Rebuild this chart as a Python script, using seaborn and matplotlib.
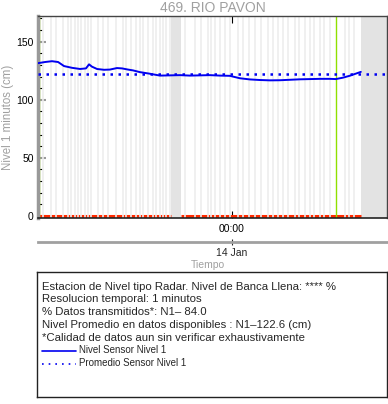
import numpy as np
import pandas as pd
import matplotlib
matplotlib.use("Agg")
import matplotlib.pyplot as plt
import matplotlib.dates as mdates
from matplotlib.ticker import MultipleLocator, FixedLocator
import seaborn as sns

# --- data (hours after window start) ---
START = pd.Timestamp("2024-01-13 10:40")
END = pd.Timestamp("2024-01-14 10:40")

level_hours = [0.0, 0.48, 0.96, 1.38, 1.79, 2.34, 2.89, 3.30, 3.51, 3.71, 4.06, 4.54,
               4.95, 5.43, 5.78, 6.19, 6.53, 7.01, 7.70, 8.39, 9.08, 9.77, 10.45,
               11.14, 11.83, 12.52, 13.20, 13.89, 14.58, 15.27, 15.95, 16.64, 17.33,
               18.02, 18.71, 19.39, 20.08, 20.49, 20.97, 21.46, 21.87, 22.21]
level_cm = [131.5, 132.5, 133.2, 132.5, 129.0, 127.5, 126.5, 127.0, 130.5, 128.5, 126.5,
            125.8, 126.0, 127.3, 127.0, 126.0, 125.3, 123.8, 122.4, 120.8, 121.0, 121.2,
            120.8, 121.0, 121.2, 120.8, 120.6, 118.5, 117.5, 117.0, 116.7, 116.8, 117.2,
            117.6, 117.8, 118.0, 118.0, 117.8, 119.0, 120.7, 122.5, 124.0]
mean_cm = 122.6

gap_hours = [0.34, 0.92, 1.26, 1.72, 2.06, 2.29, 2.52, 2.75, 2.98, 3.21, 3.44, 3.67,
             4.13, 4.47, 4.81, 5.39, 5.84, 6.07, 6.42, 6.76, 6.99, 7.22, 7.56, 7.91,
             8.14, 8.37, 8.60, 8.82, 9.05, 10.08, 10.77, 11.23, 11.69, 11.92, 12.15,
             12.49, 12.84, 13.18, 13.75, 14.10, 14.55, 14.90, 15.36, 15.81, 16.16,
             16.50, 16.85, 17.19, 17.65, 17.99, 18.34, 18.68, 19.02, 19.37, 19.71,
             20.06, 21.09, 21.43, 21.77]
shade_spans = [(9.15, 9.84), (22.21, 24.0)]
green_hours = [0.05, 20.49]

info_lines = ["Estacion de Nivel tipo Radar. Nivel de Banca Llena: **** %",
              "Resolucion temporal: 1 minutos",
              "% Datos transmitidos*: N1\u2013 84.0",
              "Nivel Promedio en datos disponibles : N1\u2013122.6 (cm)",
              "*Calidad de datos aun sin verificar exhaustivamente"]
legend_labels = ["Nivel Sensor Nivel 1", "Promedio Sensor Nivel 1"]


def to_time(hours):
    return START + pd.to_timedelta(np.asarray(hours), unit="h")


sns.set_style("ticks")
plt.rcParams["font.family"] = ["Liberation Sans", "DejaVu Sans"]

fig = plt.figure(figsize=(3.88, 4.04), dpi=100)
ax = fig.add_axes([0.098, 0.46, 0.899, 0.500])

df = pd.DataFrame({"t": to_time(level_hours), "nivel": level_cm})
mean_df = pd.DataFrame({"t": [START, END], "nivel": [mean_cm, mean_cm]})

# background: shaded spans, gaps, green markers
for a, b in shade_spans:
    ax.axvspan(to_time([a])[0], to_time([b])[0], color="#e3e3e3", lw=0, zorder=1)

# red availability line at zero (broken in the big gap)
red_t = to_time([0.0, 9.15, 9.15, 9.84, 9.84, 22.21])
red_v = [0, 0, np.nan, np.nan, 0, 0]
ax.plot(red_t, red_v, color="#ff2a00", lw=2.2, zorder=1.2, solid_capstyle="butt")

for h in gap_hours:
    ax.axvline(to_time([h])[0], color="#ededed", lw=1.2, zorder=1.5)
for h in green_hours:
    ax.axvline(to_time([h])[0], color="#8fe000", lw=1.0, zorder=1.8)

sns.lineplot(data=df, x="t", y="nivel", ax=ax, color="#0000f0", lw=1.4, zorder=6)
sns.lineplot(data=mean_df, x="t", y="nivel", ax=ax, color="#0000f0", lw=1.8,
             linestyle=(0, (1, 2.2)), zorder=5)

ax.set_xlim(START, END)
ax.set_ylim(-2, 172)
ax.set_xlabel("")
ax.set_ylabel("Nivel 1 minutos (cm)", color="#a0a0a0", fontsize=8.3, labelpad=2)
ax.set_title("469. RIO PAVON", color="#a0a0a0", fontsize=10, pad=3)

midnight = mdates.date2num(pd.Timestamp("2024-01-14 00:00"))
ax.xaxis.set_major_locator(FixedLocator([midnight]))
ax.xaxis.set_major_formatter(mdates.DateFormatter("%H:%M"))
ax.yaxis.set_major_locator(MultipleLocator(50))
ax.yaxis.set_minor_locator(MultipleLocator(10))
ax.tick_params(axis="both", which="both", direction="in", top=True, right=True,
               labelsize=7.5, colors="black")
ax.tick_params(axis="y", which="major", length=6, width=1.5, color="#999999", pad=3)
ax.tick_params(axis="y", which="minor", length=3, width=0.8, color="black")
ax.tick_params(axis="x", which="major", length=5, width=0.8, pad=4)

for side in ["top", "right"]:
    ax.spines[side].set_visible(True)
    ax.spines[side].set_color("#444444")
    ax.spines[side].set_linewidth(1.0)
ax.spines["left"].set_color("#999999")
ax.spines["left"].set_linewidth(2.5)
ax.spines["bottom"].set_color("#222222")
ax.spines["bottom"].set_linewidth(1.2)

# second date axis below
sec = ax.secondary_xaxis(-0.119)
sec.xaxis.set_major_locator(FixedLocator([midnight]))
sec.xaxis.set_major_formatter(mdates.DateFormatter("%d %b"))
sec.tick_params(axis="x", direction="inout", length=5, width=0.8, labelsize=7.5, pad=2)
sec.spines["bottom"].set_color("#a0a0a0")
sec.spines["bottom"].set_linewidth(2)
fig.text(0.535, 0.343, "Tiempo", color="#a0a0a0", fontsize=7.5, ha="center", va="center")

# info box
box = fig.add_axes([0.095, 0.017, 0.902, 0.310])
box.set_xlim(0, 350)
box.set_ylim(125, 0)
box.set_xticks([])
box.set_yticks([])
for s in box.spines.values():
    s.set_color("#222222")
    s.set_linewidth(1.0)
line_y = [14.7, 27.3, 40, 53, 65.7]
for y, txt in zip(line_y, info_lines):
    box.text(5, y, txt, fontsize=8.2, va="center", ha="left")
leg_y = [79, 92]
box.plot([5, 39], [leg_y[0], leg_y[0]], color="#0000f0", lw=1.2)
box.plot([5, 39], [leg_y[1], leg_y[1]], color="#0000f0", lw=1.2, linestyle=(0, (1, 3)))
for y, txt in zip(leg_y, legend_labels):
    box.text(42, y - 1.5, txt, fontsize=7, va="center", ha="left")

fig.savefig("out.png", dpi=100)
